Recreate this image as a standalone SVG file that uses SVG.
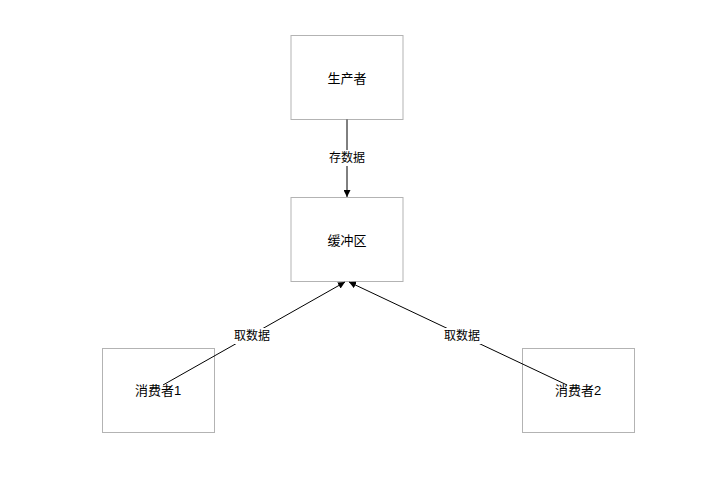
<svg xmlns="http://www.w3.org/2000/svg" width="723" height="479" viewBox="0 0 723 479">
<style>
.node{fill:#ffffff;stroke:#b3b3b3;stroke-width:1}
.t{font-family:"Liberation Sans","Noto Sans CJK SC",sans-serif;font-size:13px;fill:#000000;text-anchor:middle;dominant-baseline:central}
.lbl{font-family:"Liberation Sans","Noto Sans CJK SC",sans-serif;font-size:12px;fill:#000000;text-anchor:middle;dominant-baseline:central}
.edge{stroke:#000000;stroke-width:1;fill:none}
.lblbg{fill:#ffffff}
</style>
<defs>
<marker id="arr" viewBox="0 0 10 10" refX="10" refY="5" markerWidth="7" markerHeight="7" markerUnits="userSpaceOnUse" orient="auto">
<path d="M0,0 L10,5 L0,10 z" fill="#000000"/>
</marker>
</defs>
<rect width="723" height="479" fill="#ffffff"/>
<g id="producer"><rect class="node" x="291" y="35.5" width="112" height="84"/><text class="t" x="347" y="78">生产者</text></g>
<g id="buffer"><rect class="node" x="291" y="197.5" width="112" height="84"/><text class="t" x="347" y="240">缓冲区</text></g>
<g id="consumer1"><rect class="node" x="102.5" y="348.5" width="112" height="84"/><text class="t" x="158" y="390">消费者1</text></g>
<g id="consumer2"><rect class="node" x="522.5" y="348.5" width="112" height="84"/><text class="t" x="578" y="390">消费者2</text></g>
<g id="connectors">
<line class="edge" x1="347" y1="119.5" x2="347" y2="197" marker-end="url(#arr)"/>
<rect class="lblbg" x="327" y="150" width="40" height="16"/>
<text class="lbl" x="347" y="158">存数据</text>
<line class="edge" x1="163" y1="385" x2="345" y2="282" marker-end="url(#arr)"/>
<rect class="lblbg" x="232" y="328" width="40" height="16"/>
<text class="lbl" x="252" y="336">取数据</text>
<line class="edge" x1="567" y1="385" x2="349" y2="282" marker-end="url(#arr)"/>
<rect class="lblbg" x="442" y="328" width="40" height="16"/>
<text class="lbl" x="462" y="336">取数据</text>
</g>
</svg>
